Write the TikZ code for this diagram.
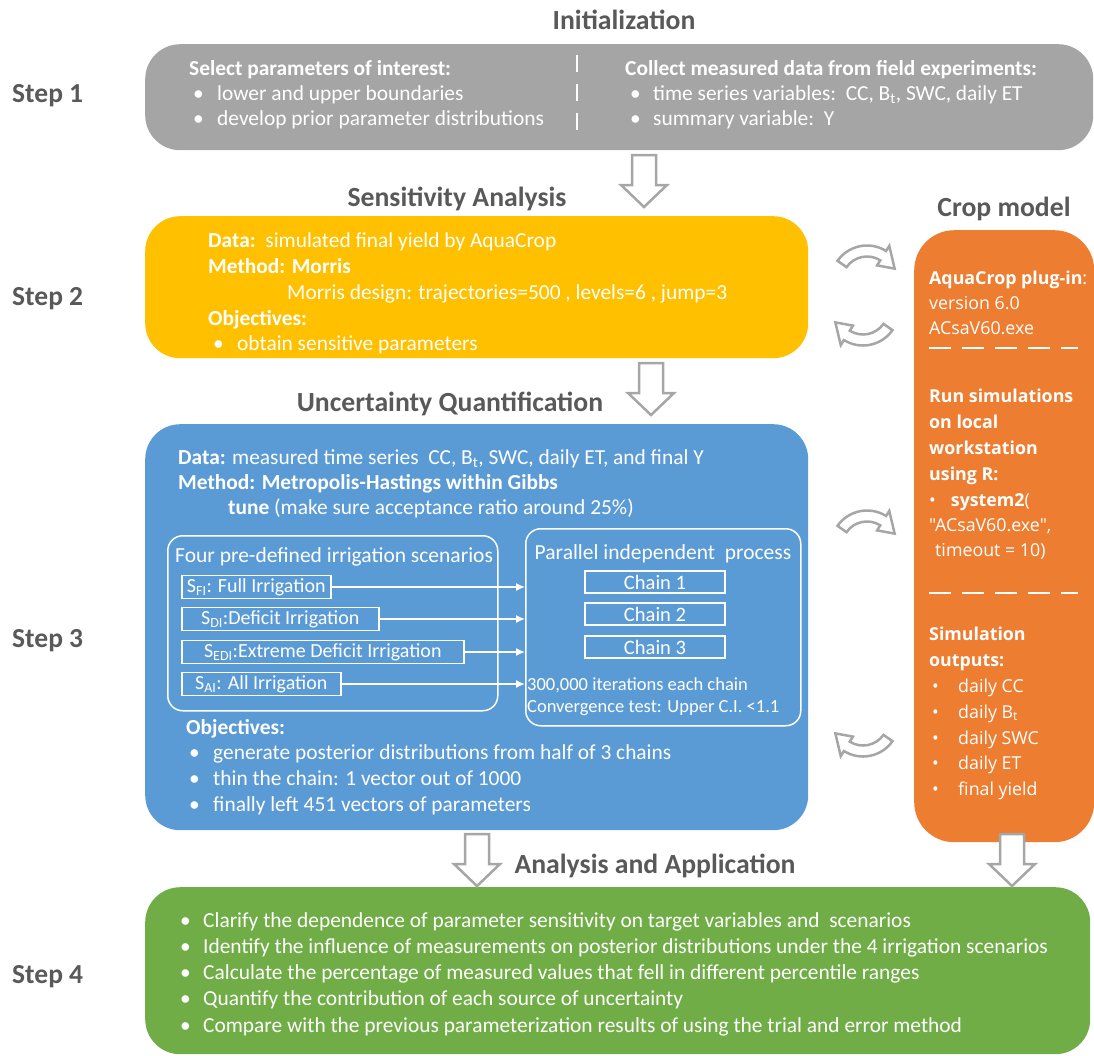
\documentclass[tikz,border=0pt]{standalone}
\usepackage{fontspec}
\setmainfont{Carlito}
\newfontfamily\cropfont{Open Sans}
\usetikzlibrary{arrows.meta}
\definecolor{boxgray}{HTML}{A5A5A5}
\definecolor{boxyellow}{HTML}{FFC000}
\definecolor{boxblue}{HTML}{5B9BD5}
\definecolor{boxorange}{HTML}{ED7D31}
\definecolor{boxgreen}{HTML}{70AD47}
\definecolor{titlegray}{HTML}{595959}
\definecolor{arrgray}{HTML}{A6A6A6}
\tikzset{
  panel/.style={rounded corners=35pt, draw=none, inner sep=0pt, anchor=north west},
  txt/.style={inner sep=0pt, text=white, anchor=base west, font=\fontsize{21.4}{25}\selectfont},
  itxt/.style={txt, font=\fontsize{21.5}{25}\selectfont},
  stxt/.style={txt, font=\fontsize{18.5}{22}\selectfont},
  ctxt/.style={txt, font=\cropfont\fontsize{17.8}{22}\selectfont},
  steplabel/.style={inner sep=0pt, anchor=base west, text=titlegray, font=\fontsize{27.5}{30}\selectfont\bfseries},
  paneltitle/.style={inner sep=0pt, anchor=base, text=titlegray, font=\fontsize{27.7}{30}\selectfont\bfseries},
  innerbox/.style={draw=white, line width=1.5pt, rounded corners=15pt, inner sep=0pt, anchor=north west},
  scen/.style={draw=white, line width=1.5pt, inner xsep=3pt, inner ysep=0pt, minimum height=23pt, text=white, font=\fontsize{20}{24}\selectfont, anchor=west},
  chainbox/.style={draw=white, line width=1.5pt, minimum width=140pt, minimum height=22pt, inner sep=0pt, text=white, font=\fontsize{20.5}{24}\selectfont},
  conn/.style={draw=white, line width=1.5pt, -{Latex[length=9pt,width=8pt]}},
  hollow/.style={draw=arrgray, line width=2.5pt, fill=white, line join=miter},
  whitedash/.style={draw=white, line width=2pt},
  downarr/.pic={\draw[hollow] (-12,0) -- (12,0) -- (12,-30) -- (23,-30) -- (0,-52) -- (-23,-30) -- (-12,-30) -- cycle;},
  curvarr/.pic={\begin{scope}[shift={(1,-24.5)}]
    \draw[hollow] (145:36) arc[start angle=145,end angle=58,radius=36] -- (58:42) -- (25:30.5) -- (58:19) -- (58:25) arc[start angle=58,end angle=145,radius=25] -- cycle;
  \end{scope}}
}
\newcommand\tline[4]{\node[txt] (#1) at (#2,#3) {#4};}
\newcommand\iline[4]{\node[itxt] (#1) at (#2,#3) {#4};}
\newcommand\sline[4]{\node[stxt] (#1) at (#2,#3) {#4};}
\newcommand\cropline[4]{\node[ctxt] (#1) at (#2,#3) {#4};}
\newcommand\bline[5]{\node[txt] (#1b) at (#2,#4) {\textbullet}; \node[txt] (#1) at (#3,#4) {#5};}
\newcommand\cbline[5]{\node[ctxt] (#1b) at (#2,#4) {\textbullet}; \node[ctxt] (#1) at (#3,#4) {#5};}
\begin{document}
\begin{tikzpicture}[x=1pt,y=1pt]
\begin{scope}[yscale=-1]
\useasboundingbox (0,0) rectangle (1094,1055);

% ---------- panels ----------
\node[panel, fill=boxgray, minimum width=948pt, minimum height=106pt] (init) at (145,44) {};
\node[panel, fill=boxyellow, minimum width=663pt, minimum height=142pt] (sens) at (145,216) {};
\node[panel, fill=boxblue, minimum width=663pt, minimum height=406pt] (unc) at (145,424) {};
\node[panel, fill=boxorange, rounded corners=40pt, minimum width=180pt, minimum height=612pt] (crop) at (914,230) {};
\node[panel, fill=boxgreen, minimum width=945pt, minimum height=167pt] (anal) at (145,887) {};

% ---------- step labels ----------
\node[steplabel] (st1) at (12,102) {Step 1};
\node[steplabel] (st2) at (12,305) {Step 2};
\node[steplabel] (st3) at (12,647) {Step 3};
\node[steplabel] (st4) at (12,983) {Step 4};

% ---------- titles ----------
\node[paneltitle] (t1) at (624,29) {Initialization};
\node[paneltitle] (t2) at (457,206) {Sensitivity Analysis};
\node[paneltitle] (t3) at (450,411) {Uncertainty Quantification};
\node[paneltitle] (t4) at (1004,216) {Crop model};
\node[paneltitle] (t5) at (655,873) {Analysis and Application};

% ---------- step 1 ----------
\tline{ia}{189}{75}{\textbf{Select parameters of interest:}}
\bline{ib}{193}{217}{100}{lower and upper boundaries}
\bline{ic}{193}{217}{125}{develop prior parameter distributions}
\tline{id}{625}{75}{\textbf{Collect measured data from field experiments:}}
\bline{ie}{630}{653}{100}{time series variables:\ \ CC, B\textsubscript{t}, SWC, daily ET}
\bline{if}{630}{653}{125}{summary variable:\ \ Y}
\draw[whitedash, dash pattern=on 17pt off 12pt] (577,55) -- (577,131);

% ---------- step 2 ----------
\tline{sa}{208}{247}{\textbf{Data:}\ \ simulated final yield by AquaCrop}
\tline{sb}{208}{273}{\textbf{Method: Morris}}
\tline{sc}{287}{299}{Morris design: trajectories=500 , levels=6 , jump=3}
\tline{sd}{208}{325}{\textbf{Objectives:}}
\bline{se}{213}{237}{350}{obtain sensitive parameters}

% ---------- step 3 ----------
\tline{ua}{178}{464}{\textbf{Data:} measured time series\ \ CC, B\textsubscript{t}, SWC, daily ET, and final Y}
\tline{ub}{178}{489}{\textbf{Method: Metropolis-Hastings within Gibbs}}
\tline{uc}{228}{514}{\textbf{tune} (make sure acceptance ratio around 25\%)}

\node[innerbox, minimum width=330pt, minimum height=175pt] (four) at (167,535) {};
\node[innerbox, minimum width=275pt, minimum height=197pt] (par) at (525,528) {};
\iline{fa}{175}{562}{Four pre-defined irrigation scenarios}
\node[itxt, anchor=base] (pa) at (663,559) {Parallel independent\ \ process};

\node[scen, minimum width=149pt] (sfi) at (181,587) {S\textsubscript{FI}: Full Irrigation};
\node[scen, minimum width=197pt] (sdi) at (181,619) {S\textsubscript{DI}:Deficit Irrigation\hspace{22pt}};
\node[scen, minimum width=282pt] (sedi) at (181,652) {S\textsubscript{EDI}:Extreme Deficit Irrigation\hspace{22pt}};
\node[scen, minimum width=159pt] (sai) at (181,684) {S\textsubscript{AI}: All Irrigation\hspace{6pt}};

\node[chainbox] (ch1) at (655,582) {Chain 1};
\node[chainbox] (ch2) at (655,614) {Chain 2};
\node[chainbox] (ch3) at (655,647) {Chain 3};

\draw[conn] (sfi.east) -- (sfi.east -| par.west);
\draw[conn] (sdi.east) -- (sdi.east -| par.west);
\draw[conn] (sedi.east) -- (sedi.east -| par.west);
\draw[conn] (sai.east) -- (sai.east -| par.west);

\sline{pb}{527}{690}{300,000 iterations each chain}
\sline{pc}{527}{712}{Convergence test: Upper C.I. <1.1}

\tline{ud}{186}{734}{\textbf{Objectives:}}
\bline{ue}{189}{213}{759}{generate posterior distributions from half of 3 chains}
\bline{uf}{189}{213}{785}{thin the chain: 1 vector out of 1000}
\bline{ug}{189}{213}{811}{finally left 451 vectors of parameters}

% ---------- crop model ----------
\cropline{ca}{929}{284}{\textbf{AquaCrop plug-in}:}
\cropline{cb}{929}{309}{version 6.0}
\cropline{cc}{929}{334}{ACsaV60.exe}
\draw[whitedash, dash pattern=on 22pt off 11pt] (929,348) -- (1078,348);
\cropline{cd}{929}{402}{\textbf{Run simulations}}
\cropline{ce}{929}{428}{\textbf{on local}}
\cropline{cf}{929}{454}{\textbf{workstation}}
\cropline{cg}{929}{480}{\textbf{using R:}}
\cropline{ch}{929}{506}{\textbullet\hspace{15pt}\textbf{system2}(}
\cropline{ci}{929}{531}{"ACsaV60.exe",}
\cropline{cj}{935}{556}{timeout = 10)}
\draw[whitedash, dash pattern=on 22pt off 11pt] (929,593) -- (1078,593);
\cropline{ck}{929}{640}{\textbf{Simulation}}
\cropline{cl}{929}{666}{\textbf{outputs:}}
\cbline{cm}{932}{958}{692}{daily CC}
\cbline{cn}{932}{958}{718}{daily B\textsubscript{t}}
\cbline{co}{932}{958}{744}{daily SWC}
\cbline{cp}{932}{958}{769}{daily ET}
\cbline{cq}{932}{958}{795}{final yield}

% ---------- step 4 ----------
\bline{ga}{180}{203}{927}{Clarify the dependence of parameter sensitivity on target variables and\ \ scenarios}
\bline{gb}{180}{203}{953}{Identify the influence of measurements on posterior distributions under the 4 irrigation scenarios}
\bline{gc}{180}{203}{979}{Calculate the percentage of measured values that fell in different percentile ranges}
\bline{gd}{180}{203}{1005}{Quantify the contribution of each source of uncertainty}
\bline{ge}{180}{203}{1032}{Compare with the previous parameterization results of using the trial and error method}

% ---------- block arrows ----------
\pic at (644,155) {downarr};
\pic at (651,363) {downarr};
\pic at (477,834) {downarr};
\pic at (1012,834) {downarr};

\pic at (866,257) {curvarr};
\pic[rotate=180] at (864,334) {curvarr};
\pic at (866,522) {curvarr};
\pic[rotate=180] at (864,745) {curvarr};
\end{scope}
\end{tikzpicture}
\end{document}
